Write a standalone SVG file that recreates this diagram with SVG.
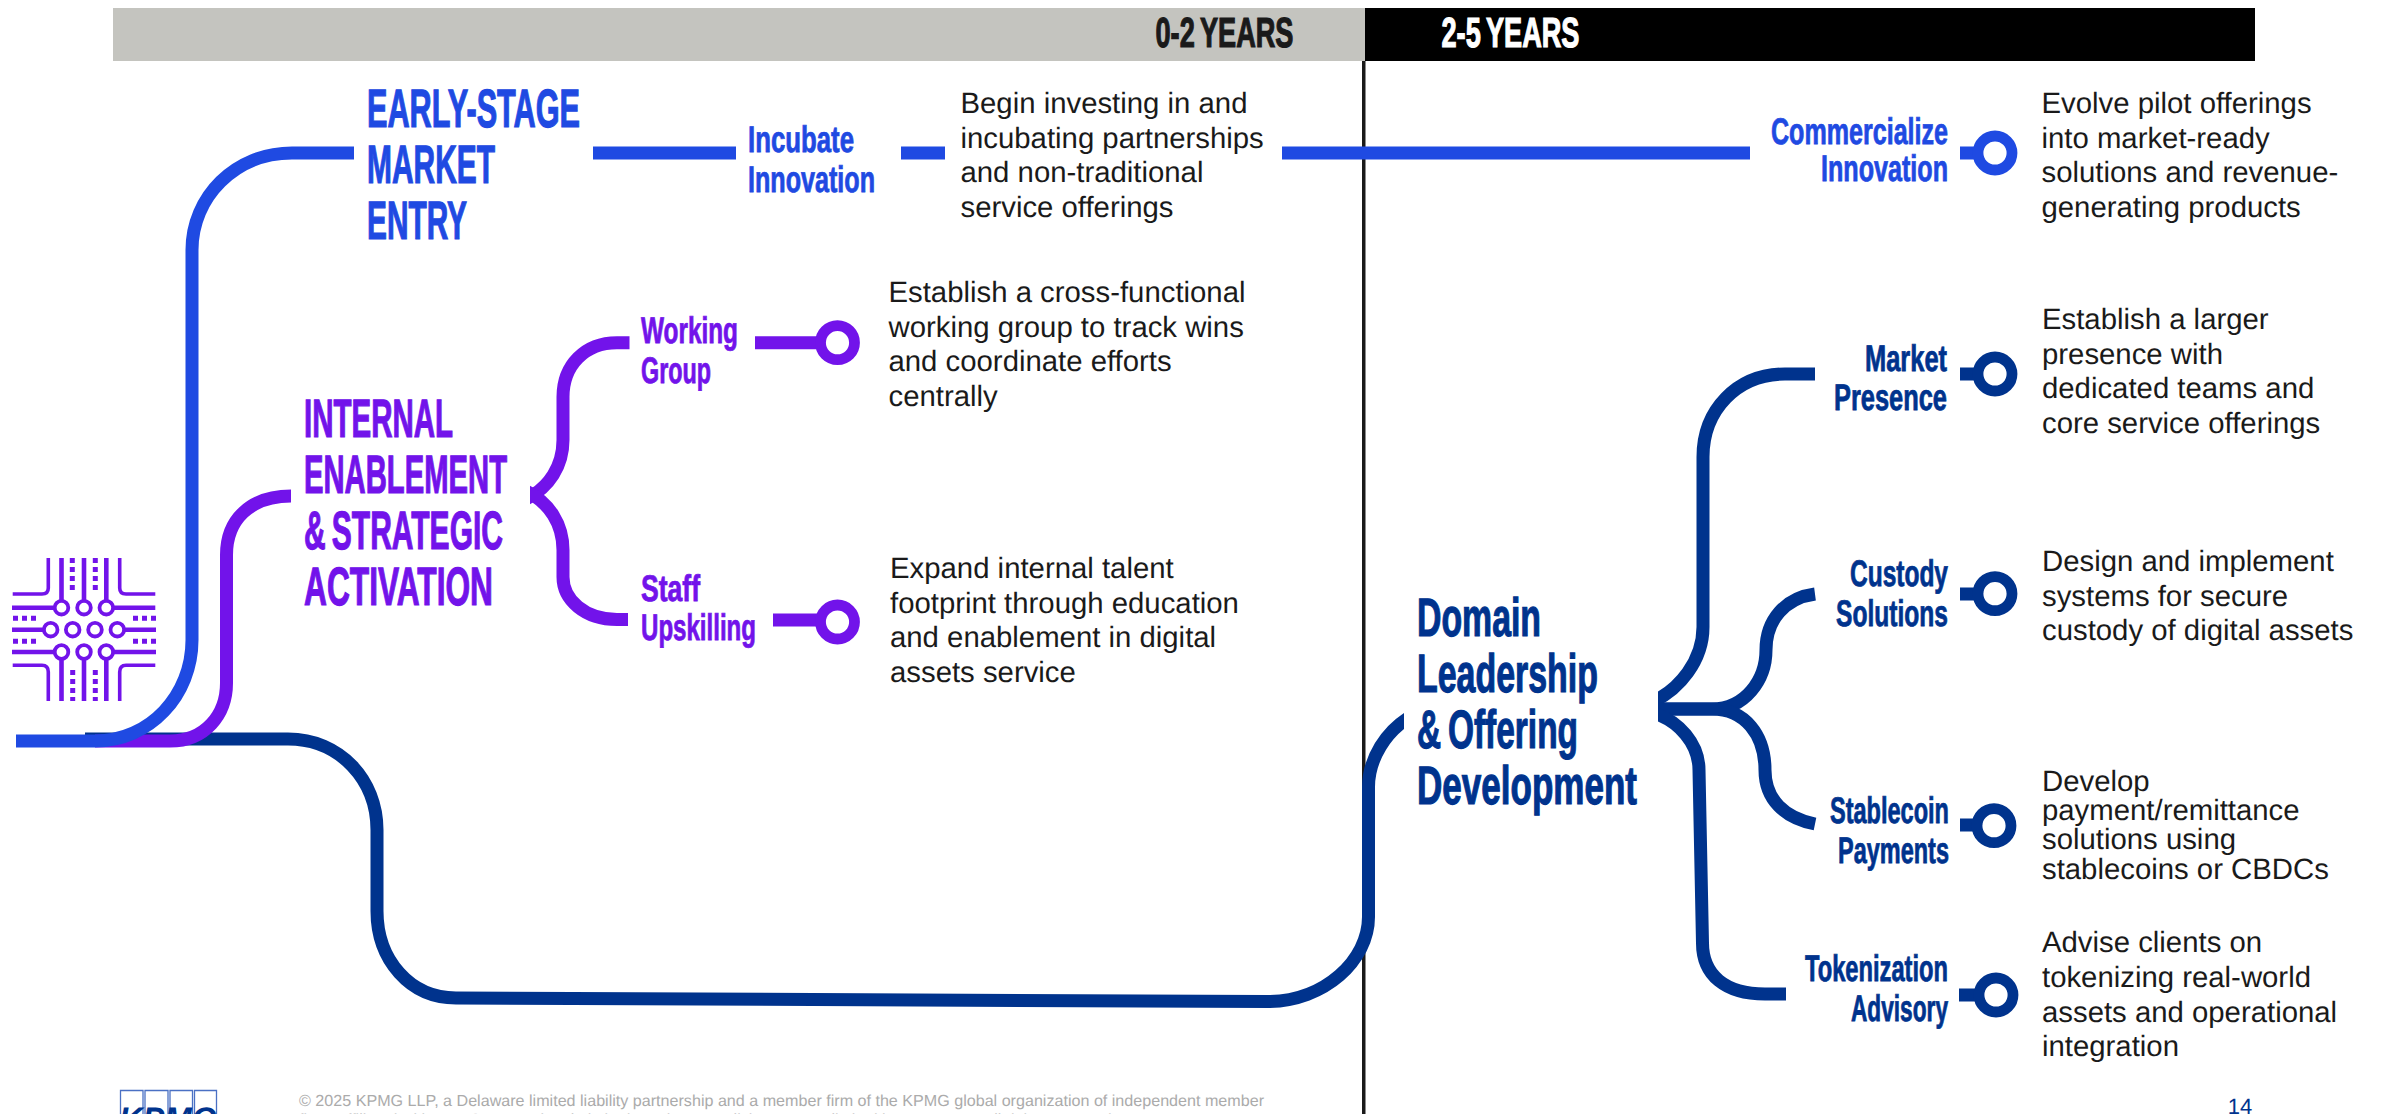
<svg xmlns="http://www.w3.org/2000/svg" width="2382" height="1114" viewBox="0 0 2382 1114">
<style>
text{text-rendering:geometricPrecision}
.c{fill:none;stroke-width:13}
.b{stroke:#1f4ae2}.p{stroke:#7213ea}.d{stroke:#00338d}
.r{fill:#fff;stroke-width:10.8}
.fb{fill:#1f4ae2;stroke:#1f4ae2}.fp{fill:#7213ea;stroke:#7213ea}.fd{fill:#00338d;stroke:#00338d}
.h{font:bold 54px "Liberation Sans",Arial,sans-serif;stroke-width:1.2px;word-spacing:-4px}
.s{font:bold 37px "Liberation Sans",Arial,sans-serif;stroke-width:.8px}
.t{font:29.33px "Liberation Sans",Arial,sans-serif;fill:#1a1a1a}
.y{font:bold 42px "Liberation Sans",Arial,sans-serif;stroke-width:1.2px;word-spacing:-3px}
.i{fill:none;stroke:#7213ea;stroke-width:4.6}
.l{fill:none;stroke:#7213ea;stroke-width:3.6}
.o{fill:#fff;stroke:#7213ea;stroke-width:3.8}
.k{fill:none;stroke:#7213ea;stroke-width:5;stroke-dasharray:5 4}
.f{font:16px "Liberation Sans",Arial,sans-serif;fill:#ababab}
</style>
<defs>
<clipPath id="cd"><rect x="0" y="0" width="1404" height="1114"/></clipPath>
<clipPath id="cp"><rect x="530" y="300" width="300" height="340"/></clipPath>
<clipPath id="cn"><rect x="1658" y="340" width="300" height="700"/></clipPath>
</defs>
<rect width="2382" height="1114" fill="#fff"/>
<g id="timeline">
<rect x="1362" y="61" width="3.5" height="1053" fill="#1a1a1a"/>
<rect x="113" y="8" width="1252" height="53" fill="#c4c4bf"/>
<rect x="1365" y="8" width="890" height="53" fill="#000"/>
<text class="y" x="1155.500" y="47" textLength="138" lengthAdjust="spacingAndGlyphs" fill="#1a1a1a" stroke="#1a1a1a">0-2 YEARS</text>
<text class="y" x="1441.500" y="47" textLength="138" lengthAdjust="spacingAndGlyphs" fill="#fff" stroke="#fff">2-5 YEARS</text>
</g>
<g id="connectors">
<path class="c d" clip-path="url(#cd)" d="M85 739H288C340 739 377 780 377 830V911C377 960 410 998 456 998L1267 1001.5C1325 1001.5 1368.5 960 1368.5 917V787C1368.5 760 1385 730 1415 714"/>
<path class="c p" d="M95 741H170C205 741 226.5 715 226.5 683V555C226.5 520 250 496 291 496"/>
<path class="c b" d="M16 741H95C150 741 192 695 192 640V250C192 197 235 153 292 153H354"/>
<path class="c b" d="M593 153H736M901 153H945M1282 153H1750M1960 153H1978"/>
<g clip-path="url(#cp)">
<path class="c p" d="M524 500C550 488 563 465 563 440V397C563 365 585 342.7 617 342.7H629.5"/>
<path class="c p" d="M524 490C550 502 563 525 563 550V577C563 600 585 619.5 617 619.5H628"/>
</g>
<path class="c p" d="M755 342.7H820M773 620H820"/>
<g clip-path="url(#cn)">
<path class="c d" d="M1650 703C1680 690 1703 660 1703 627V457C1703 410 1737 374 1785 374H1815"/>
<path class="c d" d="M1650 709H1712C1745 709 1766 680 1766 650C1766 620 1785 598 1815 594"/>
<path class="c d" d="M1650 709H1712C1745 709 1765 735 1765 770C1765 800 1785 818 1815 824"/>
<path class="c d" d="M1650 712C1680 720 1699 745 1699 770L1702.5 943C1702.5 975 1725 994 1765 994H1786"/>
</g>
<path class="c d" d="M1960 374H1978M1960 594H1978M1960 825H1978M1959 995H1980"/>
</g>
<g id="icon">
<path class="l" d="M48.3 558V588Q48.3 594 42 594H12.7M119.7 558V588Q119.7 594 126 594H155.3M12.7 665.3H42Q48.3 665.3 48.3 672V701M155.3 665.3H126Q119.7 665.3 119.7 672V701"/>
<path class="i" d="M61.5 558V600M84 558V600M106.3 558V600M12 607.7H54M113 607.7H155.3M12 629.7H44M124 629.7H156M12 652H54M113 652H156M61.5 659V701M84 659V701M106.3 659V701"/>
<g class="o"><circle cx="61.5" cy="607.7" r="6.8"/><circle cx="84" cy="607.7" r="6.8"/><circle cx="106.3" cy="607.7" r="6.8"/><circle cx="50.7" cy="629.7" r="6.8"/><circle cx="72.7" cy="629.7" r="6.8"/><circle cx="95" cy="629.7" r="6.8"/><circle cx="117.3" cy="629.7" r="6.8"/><circle cx="61.5" cy="652" r="6.8"/><circle cx="84" cy="652" r="6.8"/><circle cx="106.3" cy="652" r="6.8"/></g>
<path class="k" d="M72.3 558V590M95.3 558V590M72.7 670V701M95.3 670V701M13 618.3H36M133 618.3H156M13 641.3H36M133 641.3H156"/>
</g>
<g id="early-stage">
<text class="h fb" x="367" y="126.7" textLength="213" lengthAdjust="spacingAndGlyphs">EARLY-STAGE</text>
<text class="h fb" x="367" y="183" textLength="128" lengthAdjust="spacingAndGlyphs">MARKET</text>
<text class="h fb" x="367" y="239" textLength="100" lengthAdjust="spacingAndGlyphs">ENTRY</text>
</g>
<g id="incubate">
<text class="s fb" x="748" y="152" textLength="106" lengthAdjust="spacingAndGlyphs">Incubate</text>
<text class="s fb" x="748" y="191.7" textLength="127" lengthAdjust="spacingAndGlyphs">Innovation</text>
<text class="t"><tspan x="960.500" y="113">Begin investing in and</tspan><tspan x="960.500" dy="34.6">incubating partnerships</tspan><tspan x="960.500" dy="34.6">and non-traditional</tspan><tspan x="960.500" dy="34.6">service offerings</tspan></text>
</g>
<g id="commercialize">
<circle class="r b" cx="1995" cy="153" r="17"/>
<text class="s fb" x="1771" y="144" textLength="177" lengthAdjust="spacingAndGlyphs">Commercialize</text>
<text class="s fb" x="1821" y="181" textLength="127" lengthAdjust="spacingAndGlyphs">Innovation</text>
<text class="t"><tspan x="2041.5" y="112.7">Evolve pilot offerings</tspan><tspan x="2041.5" dy="34.8">into market-ready</tspan><tspan x="2041.5" dy="34.6">solutions and revenue-</tspan><tspan x="2041.5" dy="34.6">generating products</tspan></text>
</g>
<g id="internal-enablement">
<text class="h fp" x="304" y="437" textLength="149" lengthAdjust="spacingAndGlyphs">INTERNAL</text>
<text class="h fp" x="304" y="493" textLength="203" lengthAdjust="spacingAndGlyphs">ENABLEMENT</text>
<text class="h fp" x="304" y="549" textLength="199" lengthAdjust="spacingAndGlyphs">&amp; STRATEGIC</text>
<text class="h fp" x="304" y="605" textLength="189" lengthAdjust="spacingAndGlyphs">ACTIVATION</text>
</g>
<g id="working-group">
<circle class="r p" cx="837.5" cy="342.7" r="17"/>
<text class="s fp" x="641" y="343" textLength="97" lengthAdjust="spacingAndGlyphs">Working</text>
<text class="s fp" x="641" y="383" textLength="70" lengthAdjust="spacingAndGlyphs">Group</text>
<text class="t"><tspan x="888.5" y="302">Establish a cross-functional</tspan><tspan x="888.5" dy="34.6">working group to track wins</tspan><tspan x="888.5" dy="34.6">and coordinate efforts</tspan><tspan x="888.5" dy="34.6">centrally</tspan></text>
</g>
<g id="staff-upskilling">
<circle class="r p" cx="837.5" cy="622" r="17"/>
<text class="s fp" x="641" y="601" textLength="59" lengthAdjust="spacingAndGlyphs">Staff</text>
<text class="s fp" x="641" y="640" textLength="115" lengthAdjust="spacingAndGlyphs">Upskilling</text>
<text class="t"><tspan x="890" y="578">Expand internal talent</tspan><tspan x="890" dy="34.6">footprint through education</tspan><tspan x="890" dy="34.6">and enablement in digital</tspan><tspan x="890" dy="34.6">assets service</tspan></text>
</g>
<g id="domain-leadership">
<text class="h fd" x="1417" y="636" textLength="124" lengthAdjust="spacingAndGlyphs">Domain</text>
<text class="h fd" x="1417" y="692" textLength="181" lengthAdjust="spacingAndGlyphs">Leadership</text>
<text class="h fd" x="1417" y="748" textLength="161" lengthAdjust="spacingAndGlyphs">&amp; Offering</text>
<text class="h fd" x="1417" y="804" textLength="220" lengthAdjust="spacingAndGlyphs">Development</text>
</g>
<g id="market-presence">
<circle class="r d" cx="1995" cy="374" r="17"/>
<text class="s fd" x="1865" y="371" textLength="82" lengthAdjust="spacingAndGlyphs">Market</text>
<text class="s fd" x="1834" y="410" textLength="113" lengthAdjust="spacingAndGlyphs">Presence</text>
<text class="t"><tspan x="2042" y="329">Establish a larger</tspan><tspan x="2042" dy="34.6">presence with</tspan><tspan x="2042" dy="34.6">dedicated teams and</tspan><tspan x="2042" dy="34.6">core service offerings</tspan></text>
</g>
<g id="custody-solutions">
<circle class="r d" cx="1995" cy="593.7" r="17"/>
<text class="s fd" x="1850" y="586" textLength="98" lengthAdjust="spacingAndGlyphs">Custody</text>
<text class="s fd" x="1836" y="626" textLength="112" lengthAdjust="spacingAndGlyphs">Solutions</text>
<text class="t"><tspan x="2042" y="571">Design and implement</tspan><tspan x="2042" dy="34.6">systems for secure</tspan><tspan x="2042" dy="34.6">custody of digital assets</tspan></text>
</g>
<g id="stablecoin-payments">
<circle class="r d" cx="1994" cy="825.7" r="17"/>
<text class="s fd" x="1830" y="823" textLength="119" lengthAdjust="spacingAndGlyphs">Stablecoin</text>
<text class="s fd" x="1838" y="863" textLength="111" lengthAdjust="spacingAndGlyphs">Payments</text>
<text class="t"><tspan x="2042" y="791">Develop</tspan><tspan x="2042" dy="29">payment/remittance</tspan><tspan x="2042" dy="29">solutions using</tspan><tspan x="2042" dy="29.5">stablecoins or CBDCs</tspan></text>
</g>
<g id="tokenization-advisory">
<circle class="r d" cx="1996" cy="995" r="17"/>
<text class="s fd" x="1805" y="981" textLength="143" lengthAdjust="spacingAndGlyphs">Tokenization</text>
<text class="s fd" x="1851" y="1021" textLength="97" lengthAdjust="spacingAndGlyphs">Advisory</text>
<text class="t"><tspan x="2042" y="952">Advise clients on</tspan><tspan x="2042" dy="34.8">tokenizing real-world</tspan><tspan x="2042" dy="34.8">assets and operational</tspan><tspan x="2042" dy="34.6">integration</tspan></text>
</g>
<g id="footer">
<path d="M120.5 1114V1090.5H143V1114M145 1114V1090.500H168V1114M170 1114V1090.500H192.500V1114M194.500 1114V1090.500H216.500V1114" fill="none" stroke="#4a70c4" stroke-width="1.3"/>
<text x="119" y="1131" textLength="98" lengthAdjust="spacingAndGlyphs" font-family="Liberation Sans, Arial, sans-serif" font-size="34" font-weight="bold" font-style="italic" fill="#00338d">KPMG</text>
<text class="f" x="299" y="1106" textLength="965" lengthAdjust="spacingAndGlyphs">© 2025 KPMG LLP, a Delaware limited liability partnership and a member firm of the KPMG global organization of independent member</text>
<text class="f" x="299" y="1125">firms affiliated with KPMG International Limited, a private English company limited by guarantee. All rights reserved.</text>
<text x="2240" y="1113.5" text-anchor="middle" font-family="Liberation Sans, Arial, sans-serif" font-size="22" fill="#00338d">14</text>
</g>
</svg>
